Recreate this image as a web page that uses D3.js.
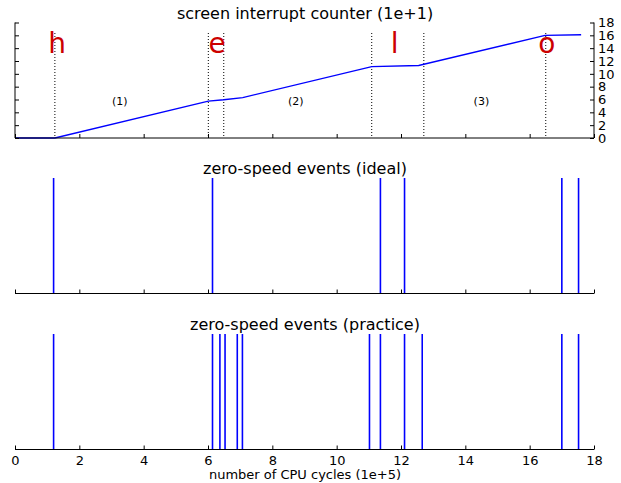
<!DOCTYPE html>
<html>
<head>
<meta charset="utf-8">
<script src="https://d3js.org/d3.v7.min.js"></script>
<style>
  body { margin: 0; background: #fff; }
  text { font-family: "DejaVu Sans", sans-serif; }
</style>
</head>
<body>
<div id="chart"></div>
<script>
// counter line (x in 1e+5 cycles, y in 1e+1 interrupts)
var counterX = [0, 1.24, 6.01, 6.49, 7.08, 11.09, 12.55, 16.48, 17.6];
var counterY = [0, 0, 5.74, 5.96, 6.3, 11.13, 11.3, 16.0, 16.1];
// dotted markers and letters
var markerX = [1.24, 6.01, 6.49, 11.09, 12.71, 16.5];
var letters = ["h", "e", "l", "o"];
var letterX = [1.31, 6.28, 11.8, 16.53];
var phaseLabels = ["(1)", "(2)", "(3)"];
var phaseX = [3.26, 8.73, 14.5];
var phaseY = 5.7;
// zero-speed events
var idealEvents = [1.2, 6.14, 11.36, 12.11, 17.0, 17.52];
var practiceEvents = [1.2, 6.14, 6.37, 6.53, 6.91, 7.07, 11.02, 11.36, 12.11, 12.66, 17.0, 17.52];
var xTicks = [0, 2, 4, 6, 8, 10, 12, 14, 16, 18];
var yTicks = [0, 2, 4, 6, 8, 10, 12, 14, 16, 18];

var W = 621, H = 483;
var svg = d3.select("#chart").append("svg")
    .attr("width", W).attr("height", H);

var x = d3.scaleLinear().domain([0, 18]).range([15, 594]);

// ---- top panel ----
var y1 = d3.scaleLinear().domain([0, 18]).range([138, 22.5]);

svg.append("text").attr("x", 305).attr("y", 19)
    .attr("text-anchor", "middle").attr("font-size", 16).text("screen interrupt counter (1e+1)");

svg.selectAll(".marker").data(markerX).enter().append("line")
    .attr("x1", d => x(d)).attr("x2", d => x(d))
    .attr("y1", 33).attr("y2", y1(0))
    .attr("stroke", "#000").attr("stroke-width", 1).attr("stroke-dasharray", "1,2");

svg.append("path")
    .datum(d3.zip(counterX, counterY))
    .attr("fill", "none").attr("stroke", "#0000ff").attr("stroke-width", 1.4)
    .attr("d", d3.line().x(d => x(d[0])).y(d => y1(d[1])));

svg.selectAll(".letter").data(letters).enter().append("text")
    .attr("x", (d, i) => x(letterX[i])).attr("y", 53)
    .attr("text-anchor", "middle").attr("font-size", 28).attr("fill", "#cc0000")
    .text(d => d);

svg.selectAll(".phase").data(phaseLabels).enter().append("text")
    .attr("x", (d, i) => x(phaseX[i])).attr("y", y1(phaseY)).attr("dy", "0.35em")
    .attr("text-anchor", "middle").attr("font-size", 11).text(d => d);

svg.append("g").attr("transform", "translate(0,138)")
    .call(d3.axisTop(x).tickValues(xTicks).tickSize(4).tickFormat(""))
    .call(g => g.select(".domain").attr("d", "M15,0H594"));
svg.append("g").attr("transform", "translate(15,0)")
    .call(d3.axisRight(y1).tickValues(yTicks).tickSize(4).tickFormat(""))
    .call(g => g.select(".domain").attr("d", "M0,22.5V138"));
var ra = svg.append("g").attr("transform", "translate(594,0)")
    .call(d3.axisLeft(y1).tickValues(yTicks).tickSize(4))
    .call(g => g.select(".domain").attr("d", "M0,22.5V138"));
ra.selectAll("text").attr("x", 4).attr("text-anchor", "start")
    .attr("font-size", 13).attr("font-family", "DejaVu Sans").attr("fill", "#000");

// ---- event panels ----
function eventPanel(title, titleY, top, base, events, labels) {
  var yy = d3.scaleLinear().domain([0, 1]).range([base, top]);
  svg.append("text").attr("x", 305).attr("y", titleY)
      .attr("text-anchor", "middle").attr("font-size", 16).text(title);
  svg.selectAll(null).data(events).enter().append("line")
      .attr("x1", d => x(d)).attr("x2", d => x(d))
      .attr("y1", yy(0)).attr("y2", yy(1))
      .attr("stroke", "#0000ff").attr("stroke-width", 1.6);
  var g = svg.append("g").attr("transform", "translate(0," + base + ")")
      .call(d3.axisTop(x).tickValues(xTicks).tickSize(4))
      .call(g => g.select(".domain").attr("d", "M15,0H594"));
  g.selectAll("text").attr("y", 6).attr("dy", "0.71em")
      .attr("font-size", 13).attr("font-family", "DejaVu Sans").attr("fill", "#000")
      .style("display", labels ? null : "none");
}
eventPanel("zero-speed events (ideal)", 174, 178, 293.5, idealEvents, false);
eventPanel("zero-speed events (practice)", 330, 334, 449.5, practiceEvents, true);

svg.append("text").attr("x", 305).attr("y", 479)
    .attr("text-anchor", "middle").attr("font-size", 13).text("number of CPU cycles (1e+5)");
</script>
</body>
</html>
